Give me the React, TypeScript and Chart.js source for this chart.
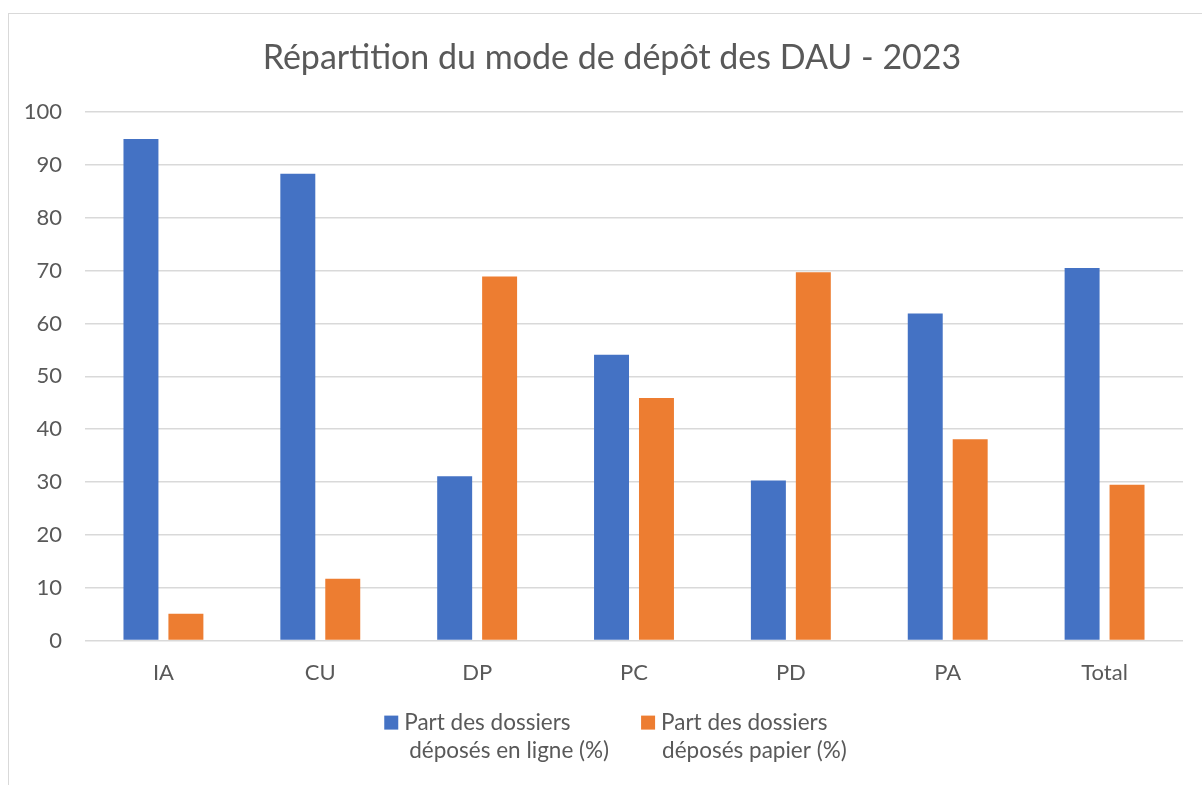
import React, { useEffect, useRef } from "react";
import { Chart, registerables } from "chart.js";

Chart.register(...registerables);

const title = "Répartition du mode de dépôt des DAU - 2023";
const categories = ["IA", "CU", "DP", "PC", "PD", "PA", "Total"];
const enLigne = [94.9, 88.3, 31.1, 54.1, 30.3, 61.9, 70.5];
const papier = [5.1, 11.7, 68.9, 45.9, 69.7, 38.1, 29.5];
const seriesLabels = [
  ["Part des dossiers", "déposés en ligne (%)"],
  ["Part des dossiers", "déposés papier (%)"],
];
const seriesColors = ["#4472C4", "#ED7D31"];
const yTicks = [0, 10, 20, 30, 40, 50, 60, 70, 80, 90, 100];

const FONT = "Lato, 'Open Sans', sans-serif";
const TEXT = "#595959";

const titleAndLegendPlugin = {
  id: "titleAndLegend",
  afterDraw(chart: any) {
    const ctx = chart.ctx;
    const area = chart.chartArea;
    ctx.save();
    // title
    ctx.font = `34px ${FONT}`;
    ctx.fillStyle = TEXT;
    ctx.textAlign = "center";
    ctx.textBaseline = "middle";
    ctx.fillText(title, chart.width / 2 + 4, 44);
    // legend
    ctx.font = `22.5px ${FONT}`;
    const box = 14;
    const boxGap = 6;
    const itemGap = 37;
    const widths = seriesLabels.map(
      (lines) => box + boxGap + Math.max(...lines.map((l) => ctx.measureText(l).width))
    );
    const total = widths.reduce((a, b) => a + b, 0) + itemGap;
    let x = chart.width / 2 + 7 - total / 2;
    const y1 = area.bottom + 82;
    const y2 = area.bottom + 110;
    ctx.textAlign = "left";
    seriesLabels.forEach((lines, i) => {
      ctx.fillStyle = seriesColors[i];
      ctx.fillRect(x, y1 - 7, box, box);
      ctx.fillStyle = TEXT;
      ctx.fillText(lines[0], x + box + boxGap, y1);
      ctx.fillText(lines[1], x + box + boxGap + (i === 0 ? 5 : 1), y2);
      x += widths[i] + itemGap;
    });
    ctx.restore();
  },
};

export default function App() {
  const ref = useRef<HTMLCanvasElement>(null);
  useEffect(() => {
    if (!ref.current) return;
    const chart = new Chart(ref.current, {
      type: "bar",
      data: {
        labels: categories,
        datasets: [
          {
            label: seriesLabels[0].join(" "),
            data: enLigne,
            backgroundColor: seriesColors[0],
            categoryPercentage: 0.573,
            barPercentage: 0.778,
          },
          {
            label: seriesLabels[1].join(" "),
            data: papier,
            backgroundColor: seriesColors[1],
            categoryPercentage: 0.573,
            barPercentage: 0.778,
          },
        ],
      },
      options: {
        animation: false,
        responsive: false,
        layout: { padding: { left: 0, right: 24, bottom: 95, top: 98 } },
        plugins: {
          legend: { display: false },
          tooltip: { enabled: false },
          title: { display: false },
        },
        scales: {
          x: {
            grid: { display: false },
            border: { display: false },
            ticks: {
              color: TEXT,
              font: { family: FONT, size: 22 },
              padding: 11,
            },
          },
          y: {
            min: 0,
            max: 100,
            afterBuildTicks: (scale: any) => {
              scale.ticks = yTicks.map((v) => ({ value: v }));
            },
            afterFit: (scale: any) => {
              scale.width = 76;
            },
            grid: { color: "#d9d9d9", lineWidth: 1.5, drawTicks: false },
            border: { display: false },
            ticks: {
              color: TEXT,
              font: { family: FONT, size: 22 },
              padding: 23,
            },
          },
        },
      },
      plugins: [titleAndLegendPlugin],
    });
    return () => chart.destroy();
  }, []);
  return (
    <div
      style={{
        position: "fixed",
        left: 8,
        top: 13,
        width: 1200,
        height: 780,
        boxSizing: "border-box",
        border: "1px solid #d9d9d9",
        background: "#fff",
      }}
    >
      <canvas ref={ref} width={1198} height={778} style={{ display: "block" }} />
    </div>
  );
}
